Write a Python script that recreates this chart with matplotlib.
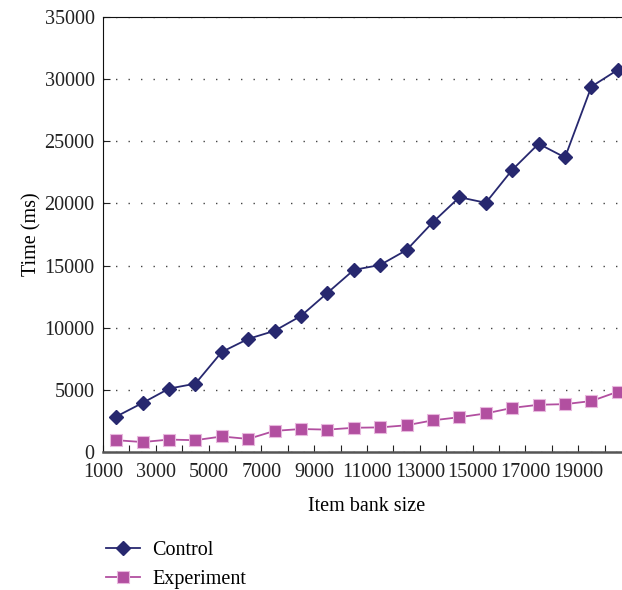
import numpy as np
from matplotlib import pyplot as plt

# item bank sizes (points sit mid-category in the original Excel chart)
bank_size = np.arange(1500, 21000, 1000)
control_ms = [2850, 3950, 5100, 5500, 8050, 9100, 9750, 10950, 12800, 14650,
              15050, 16250, 18500, 20500, 20050, 22700, 24800, 23700, 29400, 30750]
experiment_ms = [950, 800, 1000, 950, 1250, 1050, 1700, 1850, 1800, 1950,
                 1980, 2150, 2550, 2800, 3100, 3550, 3800, 3850, 4100, 4850]

tick_values = np.arange(1000, 22000, 1000)
tick_labels = [str(v) if (v // 1000) % 2 == 1 and v < 21000 else "" for v in tick_values]

plt.rcParams["font.family"] = ["Liberation Serif", "DejaVu Serif"]

fig = plt.figure(figsize=(6.22, 5.9), dpi=100)
ax = fig.add_axes([103 / 622, 138 / 590, 528 / 622, 435 / 590])

ax.plot(bank_size, control_ms, "-D", color="#27286F", lw=1.3, ms=7.5,
        label="Control", clip_on=False, zorder=3)
ax.plot(bank_size, experiment_ms, "-s", color="#B24FA0", lw=1.3, ms=8,
        mec="#E8B8DE", mew=0.8, label="Experiment", clip_on=False, zorder=3)

ax.set_xlim(1000, 21000)
ax.set_ylim(0, 35000)
ax.set_xticks(tick_values)
ax.set_xticklabels(tick_labels)
ax.set_yticks(np.arange(0, 35001, 5000))
ax.tick_params(direction="in", length=5, labelsize=14.5, colors="#222222")
ax.tick_params(axis="x", pad=8)
ax.tick_params(axis="y", pad=6)
ax.grid(axis="y", linestyle=(0, (1, 8)), color="#444444", lw=1)

for side in ["left", "top", "right"]:
    ax.spines[side].set_color("#111111")
ax.spines["bottom"].set_color("#555555")
ax.spines["bottom"].set_linewidth(1.8)

ax.set_xlabel("Item bank size", fontsize=14.5, labelpad=11)
ax.set_ylabel("Time (ms)", fontsize=14.5, labelpad=2)

fig.legend(loc="upper left", bbox_to_anchor=(88 / 622, 1 - 523 / 590), frameon=False,
           fontsize=14.5, handlelength=1.7, handletextpad=0.6, labelspacing=0.5)

fig.savefig("out.png", dpi=100)
